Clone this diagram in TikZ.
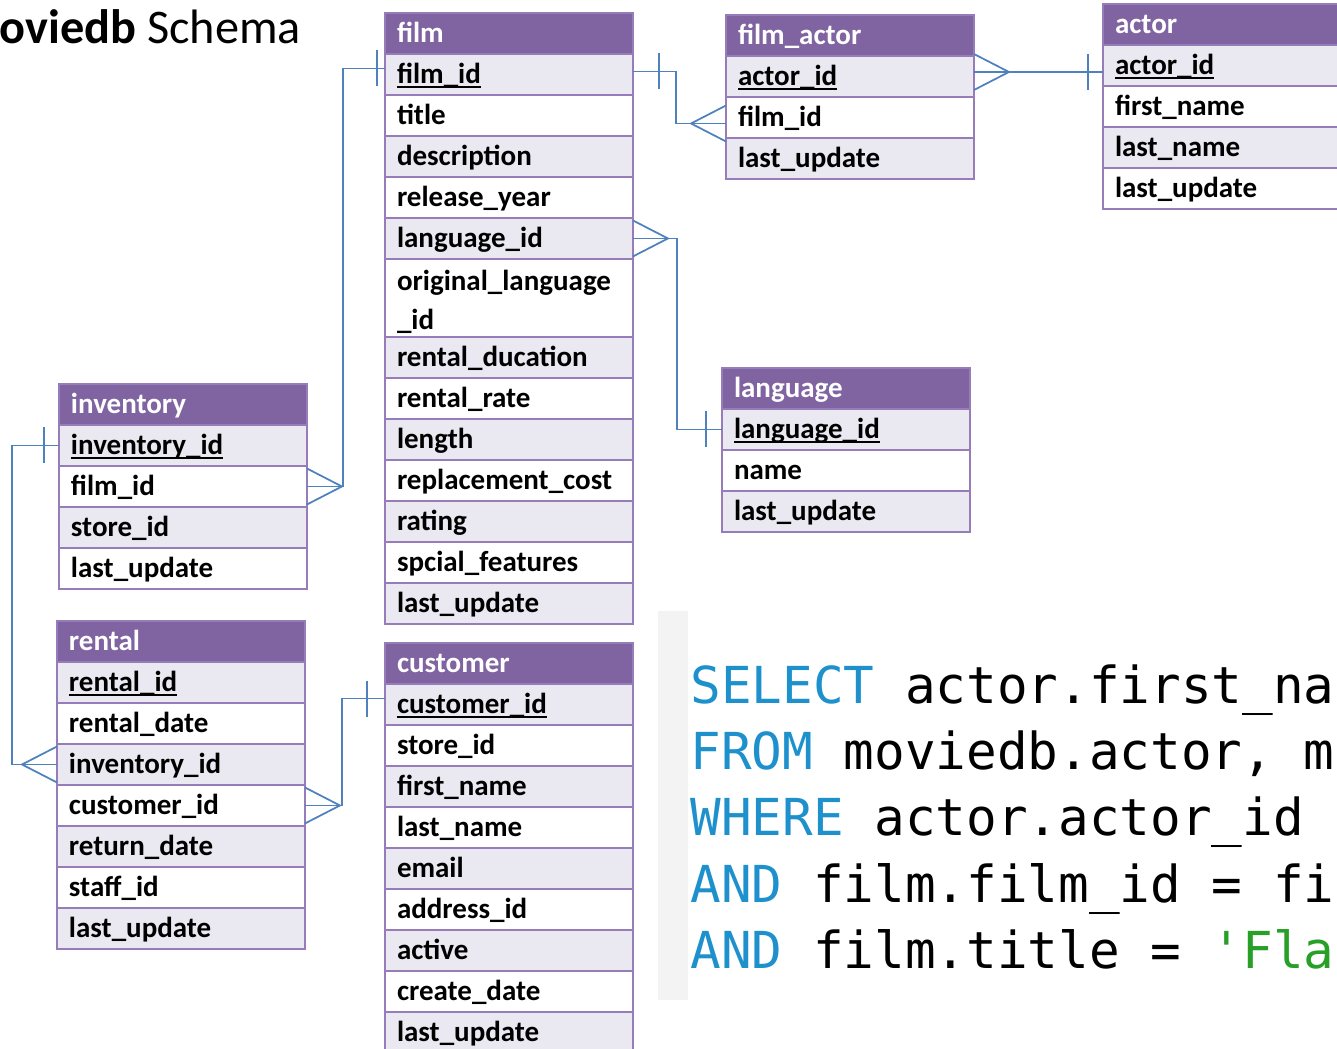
\documentclass[tikz,border=0pt]{standalone}
\usepackage{fontspec}
\setmainfont{Carlito}
\setmonofont{DejaVu Sans Mono}
\usetikzlibrary{positioning, calc}

\definecolor{tblhead}{RGB}{128,100,162}
\definecolor{tblline}{RGB}{150,125,185}
\definecolor{rowshade}{RGB}{234,232,240}
\definecolor{relblue}{RGB}{79,129,189}
\definecolor{sqlkw}{RGB}{30,145,205}
\definecolor{sqlstr}{RGB}{40,160,40}
\definecolor{gutter}{RGB}{243,243,243}

% primary key: underline close to the baseline
\newcommand\pkey[1]{\setbox0\hbox{#1}\rlap{\rule[-2.4pt]{\wd0}{0.9pt}}\box0}
% same height and depth in every cell
\newcommand\cellstrut{\rule[-5.6pt]{0pt}{21.4pt}}

\tikzset{
  cell/.style={rectangle, draw=tblline, line width=1pt, outer sep=0pt,
    minimum width=4.96cm, minimum height=0.82cm, text width=4.48cm,
    inner xsep=0.24cm, inner ysep=0pt, align=left,
    font=\fontsize{16.5}{22.2}\selectfont\bfseries,
    execute at begin node=\cellstrut},
  hdr/.style={cell, fill=tblhead, text=white},
  rowa/.style={cell, fill=rowshade},
  rowb/.style={cell, fill=white},
  rel/.style={draw=relblue, line width=1pt},
  crowfoot/.pic={\draw[rel] (0,-18) -- (35,0) -- (0,18);},
  onetick/.pic={\draw[rel] (0,-18) -- (0,18);},
  sqlline/.style={anchor=base west, inner sep=0pt,
    font=\ttfamily\fontsize{29}{38}\selectfont}
}

\begin{document}
\begin{tikzpicture}[x=0.02cm, y=-0.02cm]
    \useasboundingbox (0,0) rectangle (1337,1048);
    \clip (0,0) rectangle (1337,1048);

    \node[anchor=base west, inner sep=0pt, font=\fontsize{27.5}{30}\selectfont] (title) at (-40,43) {\textbf{moviedb} Schema};

    % film
    \node[hdr, anchor=north west] (film) at (385,13) {film};
    \node[rowa, below=0pt of film] (f-id) {\pkey{film\_id}};
    \node[rowb, below=0pt of f-id] (f-title) {title};
    \node[rowa, below=0pt of f-title] (f-desc) {description};
    \node[rowb, below=0pt of f-desc] (f-year) {release\_year};
    \node[rowa, below=0pt of f-year] (f-lang) {language\_id};
    \node[rowb, below=0pt of f-lang, minimum height=1.56cm] (f-olang) {original\_language\\\_id};
    \node[rowa, below=0pt of f-olang] (f-dur) {rental\_ducation};
    \node[rowb, below=0pt of f-dur] (f-rate) {rental\_rate};
    \node[rowa, below=0pt of f-rate] (f-len) {length};
    \node[rowb, below=0pt of f-len] (f-cost) {replacement\_cost};
    \node[rowa, below=0pt of f-cost] (f-rating) {rating};
    \node[rowb, below=0pt of f-rating] (f-feat) {spcial\_features};
    \node[rowa, below=0pt of f-feat] (f-upd) {last\_update};

    % film_actor
    \node[hdr, anchor=north west] (filmactor) at (726,15) {film\_actor};
    \node[rowa, below=0pt of filmactor] (fa-actor) {\pkey{actor\_id}};
    \node[rowb, below=0pt of fa-actor] (fa-film) {film\_id};
    \node[rowa, below=0pt of fa-film] (fa-upd) {last\_update};

    % actor
    \node[hdr, anchor=north west] (actor) at (1103,4) {actor};
    \node[rowa, below=0pt of actor] (a-id) {\pkey{actor\_id}};
    \node[rowb, below=0pt of a-id] (a-first) {first\_name};
    \node[rowa, below=0pt of a-first] (a-last) {last\_name};
    \node[rowb, below=0pt of a-last] (a-upd) {last\_update};

    % language
    \node[hdr, anchor=north west] (language) at (722,368) {language};
    \node[rowa, below=0pt of language] (l-id) {\pkey{language\_id}};
    \node[rowb, below=0pt of l-id] (l-name) {name};
    \node[rowa, below=0pt of l-name] (l-upd) {last\_update};

    % inventory
    \node[hdr, anchor=north west] (inventory) at (59,384) {inventory};
    \node[rowa, below=0pt of inventory] (i-id) {\pkey{inventory\_id}};
    \node[rowb, below=0pt of i-id] (i-film) {film\_id};
    \node[rowa, below=0pt of i-film] (i-store) {store\_id};
    \node[rowb, below=0pt of i-store] (i-upd) {last\_update};

    % rental
    \node[hdr, anchor=north west] (rental) at (57,621) {rental};
    \node[rowa, below=0pt of rental] (r-id) {\pkey{rental\_id}};
    \node[rowb, below=0pt of r-id] (r-date) {rental\_date};
    \node[rowa, below=0pt of r-date] (r-inv) {inventory\_id};
    \node[rowb, below=0pt of r-inv] (r-cust) {customer\_id};
    \node[rowa, below=0pt of r-cust] (r-ret) {return\_date};
    \node[rowb, below=0pt of r-ret] (r-staff) {staff\_id};
    \node[rowa, below=0pt of r-staff] (r-upd) {last\_update};

    % customer
    \node[hdr, anchor=north west] (customer) at (385,643) {customer};
    \node[rowa, below=0pt of customer] (c-id) {\pkey{customer\_id}};
    \node[rowb, below=0pt of c-id] (c-store) {store\_id};
    \node[rowa, below=0pt of c-store] (c-first) {first\_name};
    \node[rowb, below=0pt of c-first] (c-last) {last\_name};
    \node[rowa, below=0pt of c-last] (c-mail) {email};
    \node[rowb, below=0pt of c-mail] (c-addr) {address\_id};
    \node[rowa, below=0pt of c-addr] (c-active) {active};
    \node[rowb, below=0pt of c-active] (c-create) {create\_date};
    \node[rowa, below=0pt of c-create] (c-upd) {last\_update};

    % relations
    \draw[rel] ($(f-id.east)+(0,-3)$) -- ++(43,0) |- ($(fa-film.west)+(0,6)$);
    \pic at ($(f-id.east)+(26,-3)$) {onetick};
    \pic[xscale=-1] at ($(fa-film.west)+(0,6)$) {crowfoot};

    \draw[rel] ($(fa-actor.east)+(0,-4.5)$) -- ($(a-id.west)+(0,6.5)$);
    \pic at ($(fa-actor.east)+(0,-4.5)$) {crowfoot};
    \pic at ($(a-id.west)+(-15,6.5)$) {onetick};

    \draw[rel] (f-lang.east) -- ++(44,0) |- (l-id.west);
    \pic at (f-lang.east) {crowfoot};
    \pic at ($(l-id.west)+(-16,0)$) {onetick};

    \draw[rel] (i-film.east) -- ++(36,0) |- ($(f-id.west)+(0,-6)$);
    \pic at (i-film.east) {crowfoot};
    \pic at ($(f-id.west)+(-8,-6)$) {onetick};

    \draw[rel] (r-inv.west) -- ++(-45,0) |- (i-id.west);
    \pic[xscale=-1] at (r-inv.west) {crowfoot};
    \pic at ($(i-id.west)+(-15,0)$) {onetick};

    \draw[rel] (r-cust.east) -- ++(37,0) |- ($(c-id.west)+(0,-6)$);
    \pic at (r-cust.east) {crowfoot};
    \pic at ($(c-id.west)+(-18,-6)$) {onetick};

    % query
    \fill[gutter] (658,611) rectangle (688,1000);
    \node[sqlline] (sql1) at (690,703) {\textcolor{sqlkw}{SELECT} actor.first\_na};
    \node[sqlline] (sql2) at (690,769) {\textcolor{sqlkw}{FROM} moviedb.actor, m};
    \node[sqlline] (sql3) at (690,835) {\textcolor{sqlkw}{WHERE} actor.actor\_id};
    \node[sqlline] (sql4) at (690,902) {\textcolor{sqlkw}{AND} film.film\_id = fi};
    \node[sqlline] (sql5) at (690,968) {\textcolor{sqlkw}{AND} film.title = \textcolor{sqlstr}{'Fla}};
\end{tikzpicture}
\end{document}
